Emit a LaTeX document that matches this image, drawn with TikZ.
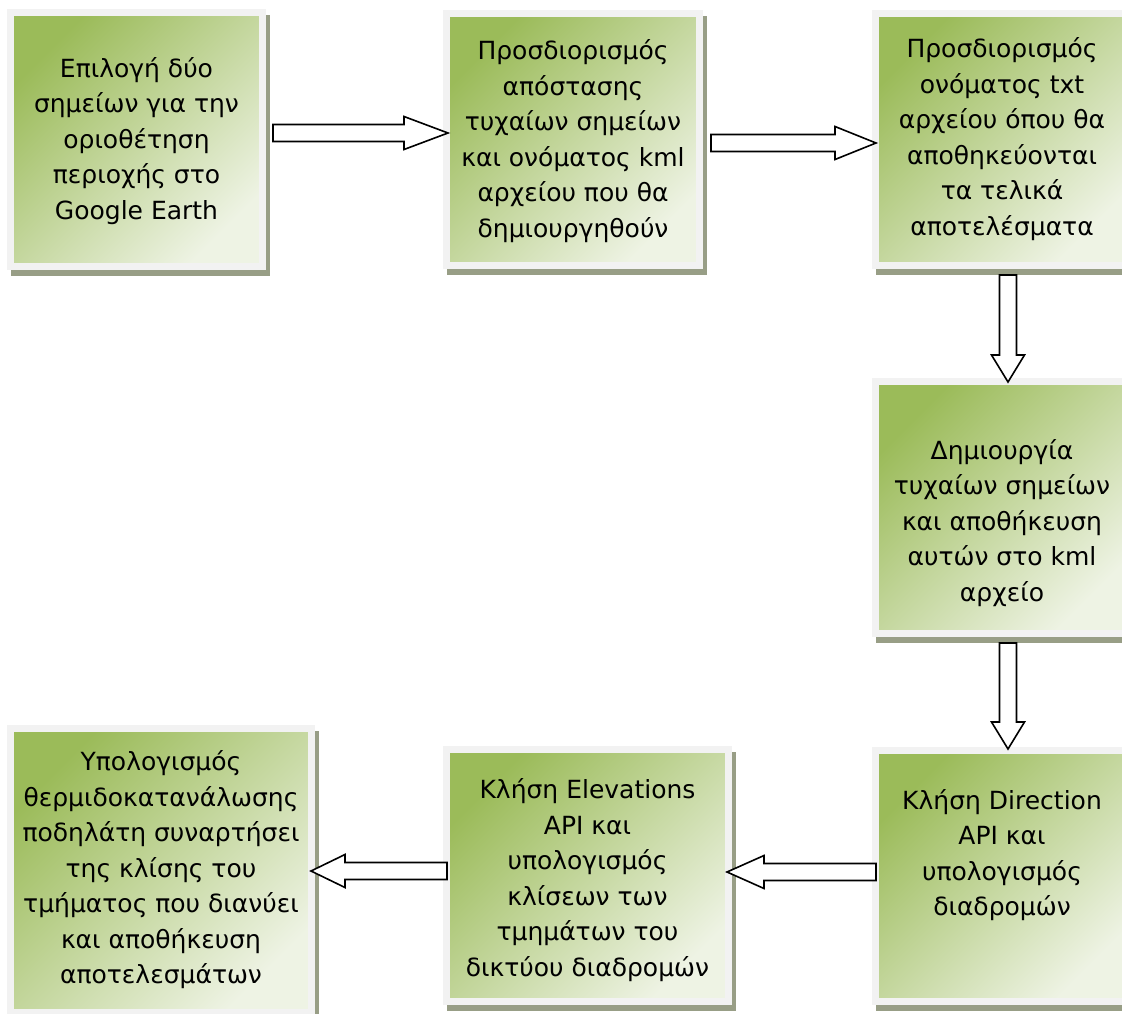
\documentclass[tikz,border=0pt]{standalone}
\usepackage{fontspec}
\setmainfont{DejaVu Sans}
\usetikzlibrary{calc,shadows}

\definecolor{boxgreen}{HTML}{9BBB59}
\definecolor{boxmid}{HTML}{C4D6A0}
\definecolor{boxpale}{HTML}{EEF3E4}
\definecolor{framegray}{HTML}{F2F2F2}
\definecolor{shadowolive}{HTML}{989E86}

\tikzset{
  box/.style={rectangle, inner sep=0pt, draw=framegray, line width=7pt,
    top color=boxgreen, middle color=boxmid, bottom color=boxpale, shading angle=45,
    drop shadow={shadow xshift=4pt, shadow yshift=-6pt, fill=shadowolive,
      draw=shadowolive, line width=7pt, opacity=1}},
  txt/.style={align=center, inner sep=0pt, font=\fontsize{25}{35.5}\selectfont},
  fatarrow/.style={draw=black, line width=1.6pt, fill=white, line join=miter,
    to path={let \p1=(\tikztostart), \p2=(\tikztotarget),
      \n1={veclen(\x2-\x1,\y2-\y1)}, \n2={(\x2-\x1)/\n1}, \n3={(\y2-\y1)/\n1} in
      ({\x1-8.5*\n3},{\y1+8.5*\n2})
      -- ({\x2-#1*\n2-8.5*\n3},{\y2-#1*\n3+8.5*\n2})
      -- ({\x2-#1*\n2-16.5*\n3},{\y2-#1*\n3+16.5*\n2})
      -- (\p2)
      -- ({\x2-#1*\n2+16.5*\n3},{\y2-#1*\n3-16.5*\n2})
      -- ({\x2-#1*\n2+8.5*\n3},{\y2-#1*\n3-8.5*\n2})
      -- ({\x1+8.5*\n3},{\y1-8.5*\n2}) -- cycle}},
  fatarrow/.default=40
}

\begin{document}
\begin{tikzpicture}[x=1pt,y=-1pt]
  \useasboundingbox (0,0) rectangle (1122,1014);

  \begin{scope}[every node/.style={box}]
    \node (b1) at (136.5,139.5) [minimum width=252, minimum height=253] {};
    \node (b2) at (573,139.5)   [minimum width=253, minimum height=252] {};
    \node (b3) at (1002,139.5)  [minimum width=253, minimum height=252] {};
    \node (b4) at (1002,507.5)  [minimum width=253, minimum height=252] {};
    \node (b5) at (1002,876)    [minimum width=253, minimum height=251] {};
    \node (b6) at (587.5,875.5) [minimum width=282, minimum height=252] {};
    \node (b7) at (161,870.5)   [minimum width=301, minimum height=284] {};
  \end{scope}

  \begin{scope}[every node/.style={txt}]
    \node (t1) at (136.5,141) {Επιλογή δύο\\σημείων για την\\οριοθέτηση\\περιοχής στο\\Google Earth};
    \node (t2) at (573,141) {Προσδιορισμός\\απόστασης\\τυχαίων σημείων\\και ονόματος kml\\αρχείου που θα\\δημιουργηθούν};
    \node (t3) at (1002,139) {Προσδιορισμός\\ονόματος txt\\αρχείου όπου θα\\αποθηκεύονται\\τα τελικά\\αποτελέσματα};
    \node (t4) at (1002,523) {Δημιουργία\\τυχαίων σημείων\\και αποθήκευση\\αυτών στο kml\\αρχείο};
    \node (t5) at (1002,855) {Κλήση Direction\\API και\\υπολογισμός\\διαδρομών};
    \node (t6) at (587.5,880) {Κλήση Elevations\\API και\\υπολογισμός\\κλίσεων των\\τμημάτων του\\δικτύου διαδρομών};
    \node (t7) at (161,870) {Υπολογισμός\\θερμιδοκατανάλωσης\\ποδηλάτη συναρτήσει\\της κλίσης του\\τμήματος που διανύει\\και αποθήκευση\\αποτελεσμάτων};
  \end{scope}

  % block arrows between the steps
  \path ([xshift=7pt,yshift=6.5pt]b1.east) edge[fatarrow=44] ([xshift=5pt,yshift=6.5pt]b2.west);
  \path ([xshift=8pt,yshift=-3.5pt]b2.east) edge[fatarrow=41] ([xshift=4pt,yshift=-3.5pt]b3.west);
  \path ([xshift=6pt,yshift=-6pt]b3.south) edge[fatarrow=27] ([xshift=6pt,yshift=-4pt]b4.north);
  \path ([xshift=6pt,yshift=-6pt]b4.south) edge[fatarrow=27] ([xshift=6pt,yshift=-2pt]b5.north);
  \path ([xshift=4pt,yshift=4pt]b5.west) edge[fatarrow=37] ([xshift=-5pt,yshift=3.5pt]b6.east);
  \path ([xshift=4pt,yshift=4.5pt]b6.west) edge[fatarrow=34] ([xshift=-4pt,yshift=-0.5pt]b7.east);
\end{tikzpicture}
\end{document}
